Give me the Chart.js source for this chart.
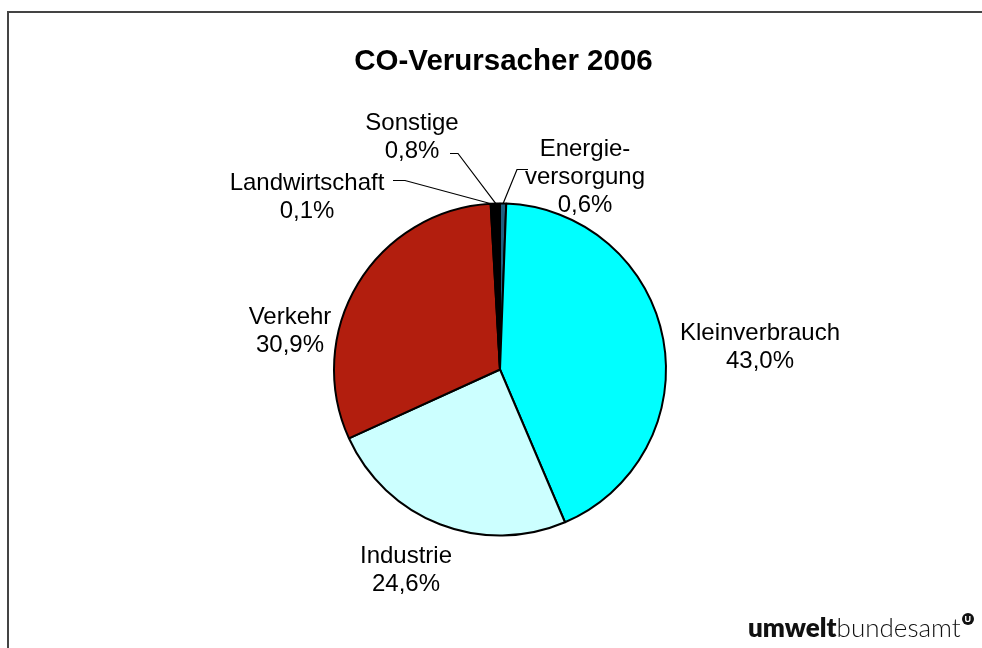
<!DOCTYPE html>
<html>
<head>
<meta charset="utf-8">
<script src="https://cdn.jsdelivr.net/npm/chart.js@4.4.1/dist/chart.umd.min.js"></script>
<style>
  html, body { margin: 0; padding: 0; background: #fff; }
  body { width: 982px; height: 648px; position: relative; overflow: hidden; }
  #frame {
    position: absolute; left: 7px; top: 11px; width: 990px; height: 660px;
    border-left: 2px solid #444; border-top: 2px solid #444;
  }
  #coChart { position: absolute; left: 0; top: 0; }
  #logo {
    position: absolute; left: 748px; top: 611px; font-family: Lato, "Open Sans", sans-serif;
    font-size: 26px; color: #111; white-space: nowrap; line-height: 32px;
  }
  #logo b { font-weight: 800; }
  #logo span.thin { font-weight: 300; }
  #logo i {
    position: absolute; right: -13px; top: 2px; width: 12px; height: 12px; border-radius: 50%;
    background: #111; color: #fff; font-style: normal; font-weight: 700; font-size: 9px;
    line-height: 12px; text-align: center; font-family: Arial, sans-serif;
  }
</style>
</head>
<body>
<div id="frame"></div>
<canvas id="coChart" width="982" height="648"></canvas>
<div id="logo"><b>umwelt</b><span class="thin">bundesamt</span><i>U</i></div>

<script>
// Daten: Anteile in Prozent, im Uhrzeigersinn ab 12 Uhr
const sectors = ['Energieversorgung', 'Kleinverbrauch', 'Industrie', 'Verkehr', 'Landwirtschaft', 'Sonstige'];
const shares = [0.6, 43.0, 24.6, 30.9, 0.1, 0.8];
const shareLabels = ['0,6%', '43,0%', '24,6%', '30,9%', '0,1%', '0,8%'];
const nameLines = [['Energie-', 'versorgung'], ['Kleinverbrauch'], ['Industrie'], ['Verkehr'], ['Landwirtschaft'], ['Sonstige']];
const sliceColors = ['#1f5f80', '#00ffff', '#ccffff', '#b21e0e', '#404040', '#000000'];

// Beschriftungen relativ zum Kreismittelpunkt (erste Zeile), Führungslinien für kleine Segmente
const labelPos = [
  { dx: 85, dy: -220, leader: [[17, -200], [28, -200]] },
  { dx: 260, dy: -36 },
  { dx: -94, dy: 187 },
  { dx: -210, dy: -52 },
  { dx: -193, dy: -186, leader: [[-95, -189], [-107, -189]] },
  { dx: -88, dy: -246, leader: [[-42, -216], [-50, -216]] }
];
const lineGap = 28;

const pieLabels = {
  id: 'pieLabels',
  afterDatasetsDraw(chart) {
    const ctx = chart.ctx;
    const arcs = chart.getDatasetMeta(0).data;
    ctx.save();
    // Titel
    ctx.fillStyle = '#000';
    ctx.font = 'bold 29.5px "Liberation Sans", Arial, sans-serif';
    ctx.textAlign = 'center';
    ctx.textBaseline = 'middle';
    ctx.fillText('CO-Verursacher 2006', 503.5, 62);

    ctx.font = '24px "Liberation Sans", Arial, sans-serif';
    arcs.forEach((arc, i) => {
      const { x, y, startAngle, endAngle, outerRadius } = arc.getProps(['x', 'y', 'startAngle', 'endAngle', 'outerRadius'], true);
      const pos = labelPos[i];
      const lines = nameLines[i].concat([shareLabels[i]]);
      lines.forEach((t, k) => ctx.fillText(t, x + pos.dx, y + pos.dy + k * lineGap));
      if (pos.leader) {
        const mid = (startAngle + endAngle) / 2;
        ctx.beginPath();
        ctx.lineWidth = 1.2;
        ctx.strokeStyle = '#000';
        ctx.moveTo(x + Math.cos(mid) * outerRadius, y + Math.sin(mid) * outerRadius);
        pos.leader.forEach(p => ctx.lineTo(x + p[0], y + p[1]));
        ctx.stroke();
      }
    });
    ctx.restore();
  }
};

new Chart(document.getElementById('coChart'), {
  type: 'pie',
  data: {
    labels: sectors,
    datasets: [{
      data: shares,
      backgroundColor: sliceColors,
      borderColor: '#000',
      borderWidth: 2
    }]
  },
  options: {
    responsive: false,
    animation: false,
    layout: { padding: { left: 333, right: 315, top: 202, bottom: 111 } },
    plugins: {
      legend: { display: false },
      tooltip: { enabled: false },
      title: { display: false }
    }
  },
  plugins: [pieLabels]
});
</script>
</body>
</html>
